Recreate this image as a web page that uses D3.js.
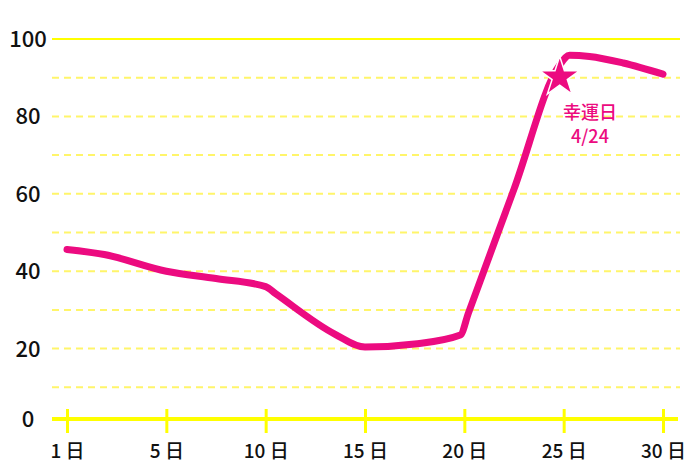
<!DOCTYPE html>
<html>
<head>
<meta charset="utf-8">
<script src="https://cdn.jsdelivr.net/npm/d3@7"></script>
<style>
  body { margin: 0; background: #fff; }
  text { font-family: "Noto Sans CJK JP", "Noto Sans", sans-serif; }
</style>
</head>
<body>
<div id="chart"></div>
<script>
var svgWidth = 700;
var svgHeight = 467;

// data
var tickDays = [1, 5, 10, 15, 20, 25, 30];
var yTicks = [0, 20, 40, 60, 80, 100];
var gridValues = [10, 20, 30, 40, 50, 60, 70, 80, 90];
var days = [1, 2.5, 5, 7.5, 10, 10.5, 13.5, 15, 17.5, 19.8, 20.2, 22.5, 24.8, 25.3, 26.3, 28, 30];
var values = [45.6, 44.3, 40.0, 38.1, 36.0, 34.2, 23.7, 20.4, 21.2, 23.5, 29.1, 61.2, 93.3, 95.8, 95.5, 93.8, 90.9];
var luckyDay = 24.8;
var luckyValue = 90.4;
var luckyLabel = ["幸運日", "4/24"];

var pink = "#ec0b80";
var left = 52, right = 680;

var svg = d3.select("#chart")
  .append("svg")
  .attr("width", svgWidth)
  .attr("height", svgHeight);

// ticks are evenly spaced even though the day gaps differ
var step = (663 - 67) / (tickDays.length - 1);
var x = d3.scaleLinear()
  .domain(tickDays)
  .range(tickDays.map((d, i) => 67 + i * step));

var y = d3.scaleLinear()
  .domain([0, 100])
  .range([426, 39]);

var axisY = 419;

// dashed grid
svg.append("g")
  .selectAll("line")
  .data(gridValues)
  .enter()
  .append("line")
  .attr("x1", left)
  .attr("x2", right)
  .attr("y1", d => y(d))
  .attr("y2", d => y(d))
  .attr("stroke", "#fff56a")
  .attr("stroke-width", 2)
  .attr("stroke-dasharray", "7,5");

// top solid line
svg.append("line")
  .attr("x1", left)
  .attr("x2", right)
  .attr("y1", y(100))
  .attr("y2", y(100))
  .attr("stroke", "#ffff00")
  .attr("stroke-width", 2);

// x axis
var bottomAxis = d3.axisBottom(x)
  .tickValues(tickDays)
  .tickSize(0)
  .tickPadding(0)
  .tickFormat(d => d + " 日");

var xAxis = svg.append("g")
  .attr("transform", `translate(0, ${axisY})`)
  .call(bottomAxis);

xAxis.select(".domain").remove();

xAxis.append("line")
  .attr("x1", left)
  .attr("x2", 678)
  .attr("stroke", "#ffff00")
  .attr("stroke-width", 4);

xAxis.selectAll(".tick").append("line")
  .attr("y1", -10)
  .attr("y2", 14)
  .attr("stroke", "#ffff00")
  .attr("stroke-width", 3);

xAxis.selectAll(".tick text")
  .attr("y", 39)
  .attr("dy", 0)
  .attr("fill", "#111")
  .attr("font-size", "19px")
  .attr("font-weight", 500)
  .attr("font-family", "Noto Sans CJK JP");

// y labels
svg.append("g")
  .selectAll("text")
  .data(yTicks)
  .enter()
  .append("text")
  .attr("x", 28)
  .attr("y", d => d === 0 ? axisY : y(d))
  .attr("dy", "0.36em")
  .attr("text-anchor", "middle")
  .attr("font-size", "22px")
  .attr("font-weight", 500)
  .attr("fill", "#111")
  .text(d => d);

// the line
var line = d3.line()
  .x(d => x(d[0]))
  .y(d => y(d[1]))
  .curve(d3.curveMonotoneX);

svg.append("path")
  .datum(d3.zip(days, values))
  .attr("d", line)
  .attr("fill", "none")
  .attr("stroke", pink)
  .attr("stroke-width", 7)
  .attr("stroke-linecap", "round")
  .attr("stroke-linejoin", "round");

// star marker
var starR = 21;
svg.append("path")
  .attr("d", d3.symbol(d3.symbolStar, starR * starR / 0.8908130915292852)())
  .attr("transform", `translate(${x(luckyDay)}, ${y(luckyValue) + 1})`)
  .attr("fill", pink)
  .attr("stroke", "#fff")
  .attr("stroke-width", 1.5);

// annotation, one text with two lines
svg.append("text")
  .attr("text-anchor", "middle")
  .attr("font-size", "18px")
  .attr("font-weight", 500)
  .attr("fill", pink)
  .selectAll("tspan")
  .data(luckyLabel)
  .enter()
  .append("tspan")
  .attr("x", 590)
  .attr("y", (d, i) => 119 + i * 24)
  .text(d => d);
</script>
</body>
</html>
